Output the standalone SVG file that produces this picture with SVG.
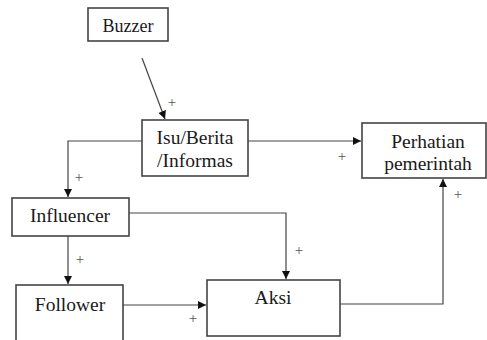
<svg xmlns="http://www.w3.org/2000/svg" width="487" height="340" viewBox="0 0 487 340">
  <style>
    .box { fill: #ffffff; stroke: #444444; stroke-width: 1.6; }
    .lbl { font-family: "Liberation Serif", "Times New Roman", serif; font-size: 19.5px; fill: #1a1a1a; text-anchor: middle; }
    .edge { fill: none; stroke: #444444; stroke-width: 1.2; }
    .sign { font-family: "Liberation Serif", "Times New Roman", serif; font-size: 15px; fill: #555555; text-anchor: middle; }
  </style>
  <defs>
    <marker id="arrow" viewBox="0 0 10 10" refX="10" refY="5" markerWidth="9" markerHeight="8" markerUnits="userSpaceOnUse" orient="auto">
      <path d="M0,0 L10,5 L0,10 Z" fill="#111111"/>
    </marker>
  </defs>
  <rect width="487" height="340" fill="#ffffff"/>

  <g id="connectors">
    <!-- Buzzer to Isu/Berita -->
    <line class="edge" x1="142" y1="58" x2="165" y2="119" marker-end="url(#arrow)"/>
    <text class="sign" x="172" y="107">+</text>
    <!-- Isu/Berita to Perhatian pemerintah -->
    <line class="edge" x1="248" y1="141" x2="361" y2="141" marker-end="url(#arrow)"/>
    <text class="sign" x="342" y="161">+</text>
    <!-- Isu/Berita to Influencer -->
    <polyline class="edge" points="142,141 68,141 68,197" marker-end="url(#arrow)"/>
    <text class="sign" x="79" y="182">+</text>
    <!-- Influencer to Follower -->
    <line class="edge" x1="68" y1="236" x2="68" y2="284" marker-end="url(#arrow)"/>
    <text class="sign" x="80" y="264">+</text>
    <!-- Influencer to Aksi -->
    <polyline class="edge" points="129,213 286,213 286,279" marker-end="url(#arrow)"/>
    <text class="sign" x="299" y="255">+</text>
    <!-- Follower to Aksi -->
    <line class="edge" x1="123" y1="305" x2="206" y2="305" marker-end="url(#arrow)"/>
    <text class="sign" x="193" y="323">+</text>
    <!-- Aksi to Perhatian pemerintah -->
    <polyline class="edge" points="340,304 443,304 443,179" marker-end="url(#arrow)"/>
    <text class="sign" x="458" y="199">+</text>
  </g>

  <g id="buzzer">
    <rect class="box" x="88" y="8" width="80" height="33"/>
    <text class="lbl" x="128" y="32" style="font-size:18px">Buzzer</text>
  </g>

  <g id="isu-berita">
    <rect class="box" x="142" y="120" width="106" height="56"/>
    <text class="lbl" x="195" y="144">Isu/Berita</text>
    <text class="lbl" x="195" y="167">/Informas</text>
  </g>

  <g id="perhatian-pemerintah">
    <rect class="box" x="362" y="123" width="124" height="55"/>
    <text class="lbl" x="428" y="148">Perhatian</text>
    <text class="lbl" x="428" y="170">pemerintah</text>
  </g>

  <g id="influencer">
    <rect class="box" x="12" y="198" width="117" height="38"/>
    <text class="lbl" x="70" y="222">Influencer</text>
  </g>

  <g id="follower">
    <rect class="box" x="16" y="285" width="107" height="60"/>
    <text class="lbl" x="70" y="311">Follower</text>
  </g>

  <g id="aksi">
    <rect class="box" x="207" y="280" width="133" height="56"/>
    <text class="lbl" x="273" y="304">Aksi</text>
  </g>
</svg>
